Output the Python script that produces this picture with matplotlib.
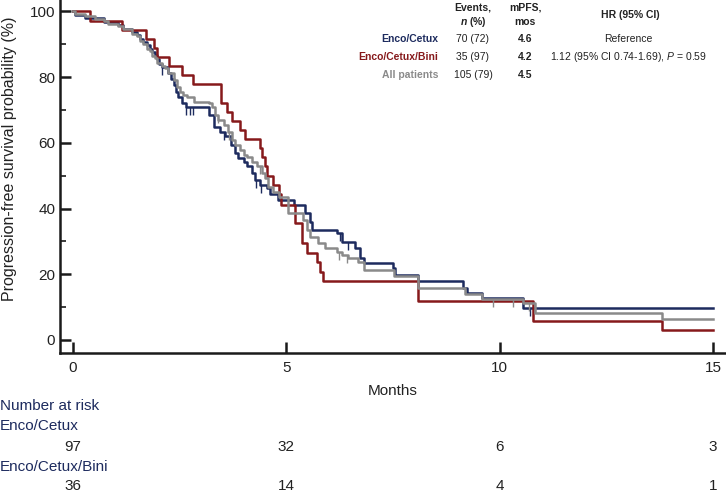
import numpy as np
import matplotlib
matplotlib.use("Agg")
import matplotlib.pyplot as plt
from matplotlib.path import Path
from matplotlib.transforms import blended_transform_factory

plt.rcParams['font.family'] = ['Liberation Sans', 'DejaVu Sans']
plt.rcParams['mathtext.fontset'] = 'custom'
plt.rcParams['mathtext.rm'] = 'Liberation Sans'
plt.rcParams['mathtext.it'] = 'Liberation Sans:italic'
plt.rcParams['mathtext.bf'] = 'Liberation Sans:bold'
plt.rcParams['mathtext.bfit'] = 'Liberation Sans:italic:bold'

# step curves (months, % progression-free)
cetux_t = [0, 0.06, 0.29, 0.72, 1.07, 1.18, 1.38, 1.50, 1.58, 1.65, 1.73, 1.81, 1.85,
           1.93, 1.97, 2.02, 2.10, 2.24, 2.30, 2.36, 2.42, 2.47, 2.55, 2.65, 3.20, 3.30,
           3.45, 3.57, 3.70, 3.79, 3.88, 4.00, 4.07, 4.19, 4.27, 4.39, 4.54, 4.62, 4.80,
           5.17, 5.44, 5.56, 5.60, 6.18, 6.30, 6.61, 6.73, 6.81, 7.51, 7.54, 8.09, 9.15,
           9.23, 9.58, 10.55, 15.0]
cetux_s = [100, 99.0, 97.9, 96.9, 95.9, 94.8, 93.8, 92.8, 91.7, 90.7, 89.7, 88.6, 87.6,
           86.6, 85.5, 84.0, 83.0, 81.2, 79.3, 77.6, 75.6, 74.1, 72.2, 71.0, 68.5, 64.9,
           63.4, 62.1, 59.4, 56.8, 55.5, 54.3, 52.8, 50.7, 48.7, 47.2, 46.2, 44.4, 42.6,
           41.0, 38.6, 36.0, 33.5, 32.5, 29.9, 27.9, 24.9, 23.3, 21.8, 19.8, 17.8, 15.7,
           14.2, 12.7, 9.8, 9.8]
cetux_cens = [2.10, 2.65, 2.75, 2.82, 3.55, 4.28, 4.40, 6.26, 6.45, 10.7]

bini_t = [0, 0.40, 1.15, 1.71, 1.91, 1.97, 2.26, 2.55, 2.81, 3.47, 3.60, 3.72, 3.92,
          4.04, 4.39, 4.43, 4.50, 4.54, 4.68, 4.84, 4.88, 5.21, 5.36, 5.48, 5.71, 5.79,
          5.87, 8.09, 10.79, 13.80, 15.0]
bini_s = [100, 97.2, 94.4, 91.7, 88.9, 86.1, 83.3, 80.6, 77.8, 72.2, 69.4, 66.7, 63.9,
          61.1, 58.3, 55.6, 52.8, 50.0, 47.2, 44.4, 41.1, 35.5, 29.4, 26.6, 23.8, 20.8,
          17.8, 11.9, 5.6, 3.0, 3.0]
bini_cens = []

all_t = [0, 0.06, 0.29, 0.52, 0.72, 0.83, 1.07, 1.18, 1.38, 1.50, 1.58, 1.65, 1.73,
         1.81, 1.85, 1.93, 1.97, 2.08, 2.16, 2.24, 2.36, 2.44, 2.51, 2.59, 2.67, 2.83,
         3.18, 3.26, 3.33, 3.41, 3.53, 3.64, 3.72, 3.80, 3.92, 4.00, 4.07, 4.19, 4.31,
         4.43, 4.50, 4.58, 4.70, 4.82, 5.05, 5.40, 5.48, 5.56, 5.75, 5.91, 6.18, 6.30,
         6.45, 6.69, 6.81, 7.52, 8.09, 9.19, 9.58, 10.55, 10.83, 13.8, 15.0]
all_s = [100, 99.2, 98.5, 97.7, 97.0, 96.2, 95.5, 94.7, 93.2, 92.5, 91.0, 90.2, 88.7,
         88.0, 86.5, 85.7, 84.2, 83.5, 82.7, 81.2, 79.1, 77.1, 75.6, 74.6, 73.9, 72.5,
         72.0, 71.0, 68.5, 67.0, 65.4, 63.4, 60.9, 59.4, 57.8, 56.3, 55.8, 54.3, 52.8,
         50.7, 49.2, 46.7, 45.1, 43.6, 38.6, 36.5, 33.5, 31.4, 29.4, 27.9, 26.9, 25.9,
         24.9, 23.8, 21.3, 19.3, 15.9, 13.9, 12.4, 11.2, 8.1, 6.4, 6.4]
all_cens = [3.40, 3.66, 4.39, 6.24, 6.43, 9.85, 10.3, 10.68]

# table in the upper right
arms = ['Enco/Cetux', 'Enco/Cetux/Bini', 'All patients']
events = ['70 (72)', '35 (97)', '105 (79)']
mpfs = ['4.6', '4.2', '4.5']
hr = ['Reference', r'1.12 (95% CI 0.74-1.69), $\mathit{P}$ = 0.59', '']

# number at risk
risk_months = [0, 5, 10, 15]
risk_cetux = [97, 32, 6, 3]
risk_bini = [36, 14, 4, 1]

navy = '#1d2b5e'
red = '#86191b'
grey = '#8a8a8a'
txt = '#222222'

W, H = 726, 492
fig = plt.figure(figsize=(W / 100, H / 100), dpi=100)
ax = fig.add_axes([60 / W, 139 / H, 666 / W, 353 / H])

tick_mark = Path([(0, 0), (0, -1)], [Path.MOVETO, Path.LINETO])

def km(t, s, cens, color, z):
    ax.step(t, s, where='post', color=color, lw=1.8, zorder=z)
    if cens:
        idx = np.searchsorted(t, cens, side='right') - 1
        ax.plot(cens, np.array(s)[idx], ls='none', marker=tick_mark, ms=11,
                mec=color, mew=1.0, zorder=z)

km(cetux_t, cetux_s, cetux_cens, navy, 3)
km(bini_t, bini_s, bini_cens, red, 4)
km(all_t, all_s, all_cens, grey, 5)

ax.set_xlim(-0.3, 15.3)
ax.set_ylim(-4, 103.5)
ax.set_xticks([0, 5, 10, 15])
ax.set_yticks([0, 20, 40, 60, 80, 100])
ax.set_yticks(np.arange(10, 100, 20), minor=True)
for sp in ['top', 'right']:
    ax.spines[sp].set_visible(False)
for sp in ['left', 'bottom']:
    ax.spines[sp].set_linewidth(1.8)
    ax.spines[sp].set_color('#1a1a1a')
ax.tick_params(axis='both', which='major', direction='in', length=8, width=1.8,
               color='#1a1a1a', labelsize=11, labelcolor=txt)
ax.tick_params(axis='y', which='minor', direction='in', length=4, width=1.2, color='#1a1a1a')
ax.tick_params(axis='y', which='major', pad=3.5)
ax.tick_params(axis='x', which='major', pad=5.5)

ax.set_ylabel('Progression-free survival probability (%)', fontsize=11.5, color=txt)
ax.yaxis.set_label_coords(-43 / 666, 0.55)
ax.set_xlabel('Months', fontsize=11, color=txt)
ax.xaxis.set_label_coords(0.5, -31 / 353)

def fx(px):
    return px / W

def fy(py):
    return 1 - py / H

# header
hs = 7.5
fig.text(fx(473), fy(8), 'Events,', ha='center', va='center', fontsize=hs, weight='bold', color=txt)
fig.text(fx(473), fy(22), r'$\mathbfit{n}$ (%)', ha='center', va='center', fontsize=hs, weight='bold', color=txt)
fig.text(fx(525), fy(8), 'mPFS,', ha='center', va='center', fontsize=hs, weight='bold', color=txt)
fig.text(fx(525), fy(22), 'mos', ha='center', va='center', fontsize=hs, weight='bold', color=txt)
fig.text(fx(630), fy(15), 'HR (95% CI)', ha='center', va='center', fontsize=hs, weight='bold', color=txt)

row_y = [38.7, 57.3, 75]
for i, arm in enumerate(arms):
    c = [navy, red, grey][i]
    fig.text(fx(438), fy(row_y[i]), arm, ha='right', va='center', fontsize=hs, weight='bold', color=c)
    fig.text(fx(473), fy(row_y[i]), events[i], ha='center', va='center', fontsize=hs, color=txt)
    fig.text(fx(525), fy(row_y[i]), mpfs[i], ha='center', va='center', fontsize=hs, weight='bold', color=txt)
    if hr[i]:
        fig.text(fx(628), fy(row_y[i]), hr[i], ha='center', va='center', fontsize=hs, color=txt)

# number at risk table
narrow = ['Liberation Sans Narrow', 'Liberation Sans', 'DejaVu Sans']
rs = 11
fig.text(0.0, fy(406), 'Number at risk', ha='left', va='center', fontsize=rs, color=navy, family=narrow)
fig.text(0.0, fy(426), 'Enco/Cetux', ha='left', va='center', fontsize=rs, color=navy, family=narrow)
fig.text(0.0, fy(467), 'Enco/Cetux/Bini', ha='left', va='center', fontsize=rs, color=navy, family=narrow)
tr = blended_transform_factory(ax.transData, fig.transFigure)
for m, a, b in zip(risk_months, risk_cetux, risk_bini):
    ax.text(m, fy(447), str(a), transform=tr, ha='center', va='center', fontsize=rs, color=txt, family=narrow)
    ax.text(m, fy(486), str(b), transform=tr, ha='center', va='center', fontsize=rs, color=txt, family=narrow)

fig.savefig('out.png', dpi=100)
